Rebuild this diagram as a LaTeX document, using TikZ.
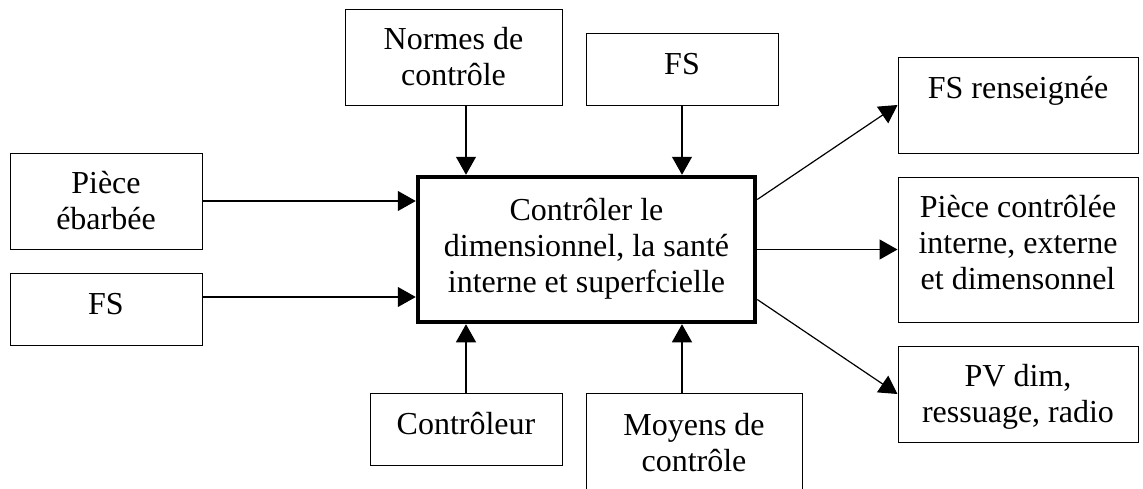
\documentclass[tikz,border=0pt]{standalone}
\usepackage{fontspec}
\setmainfont{Liberation Serif}
\usetikzlibrary{arrows.meta}
\begin{document}
\begin{tikzpicture}[x=1pt,y=-1pt,
  box/.style={draw, line width=1pt, rectangle, inner sep=0pt},
  mainbox/.style={draw, line width=4.5pt, rectangle, inner sep=0pt},
  txt/.style={align=center, inner sep=0pt, font=\fontsize{32}{36}\selectfont},
  conn/.style={line width=1.2pt, -{Triangle[length=18pt,width=20pt]}}]
\useasboundingbox (0,0) rectangle (1143,488);
\fill[white] (0,0) rectangle (1143,488);
% boxes
\node[box, minimum width=217pt, minimum height=96pt] (normes) at (453.5,57) {};
\node[txt] (tnormes) at (453.5,60.1) {\strut Normes de\\contrôle\strut};
\node[box, minimum width=192pt, minimum height=72pt] (fstop) at (682,69) {};
\node[txt] (tfstop) at (682,66.8) {\strut FS\strut};
\node[box, minimum width=192pt, minimum height=96pt] (piece) at (106,201) {};
\node[txt] (tpiece) at (106,204.1) {\strut Pièce\\ébarbée\strut};
\node[box, minimum width=192pt, minimum height=72pt] (fsleft) at (106,309) {};
\node[txt] (tfsleft) at (106,307.1) {\strut FS\strut};
\node[mainbox, minimum width=337pt, minimum height=145pt] (main) at (586.5,249.5) {};
\node[txt] (tmain) at (586.5,248.8) {\strut Contrôler le\\dimensionnel, la santé\\interne et superfcielle\strut};
\node[box, minimum width=240pt, minimum height=96pt] (fsr) at (1018,105) {};
\node[txt] (tfsr) at (1018,91.1) {\strut FS renseignée\strut};
\node[box, minimum width=240pt, minimum height=145pt] (pc) at (1018,249.5) {};
\node[txt] (tpc) at (1018,246.1) {\strut Pièce contrôlée\\interne, externe\\et dimensonnel\strut};
\node[box, minimum width=240pt, minimum height=96pt] (pv) at (1018,394) {};
\node[txt] (tpv) at (1018,396.8) {\strut PV dim,\\ressuage, radio\strut};
\node[box, minimum width=192pt, minimum height=72pt] (ctrl) at (466,429) {};
\node[txt] (tctrl) at (466,427.1) {\strut Contrôleur\strut};
\node[box, minimum width=216pt, minimum height=110pt] (moyens) at (694,448) {};
\node[txt] (tmoyens) at (694,445.8) {\strut Moyens de\\contrôle\strut};
% connectors
\draw[conn] (normes.south -| ctrl.north) -- (ctrl.north |- main.north);
\draw[conn] (fstop.south) -- (fstop.south |- main.north);
\draw[conn] (ctrl.north) -- (ctrl.north |- main.south);
\draw[conn] (moyens.north -| fstop.south) -- (fstop.south |- main.south);
\draw[conn] (piece.east) -- (piece.east -| main.west);
\draw[conn] ([yshift=12pt]fsleft.east) -- ([yshift=12pt]fsleft.east -| main.west);
\draw[conn] ([yshift=50pt]main.east) -- (fsr.west);
\draw[conn] (main.east) -- (pc.west);
\draw[conn] ([yshift=-50pt]main.east) -- (pv.west);
\end{tikzpicture}
\end{document}
